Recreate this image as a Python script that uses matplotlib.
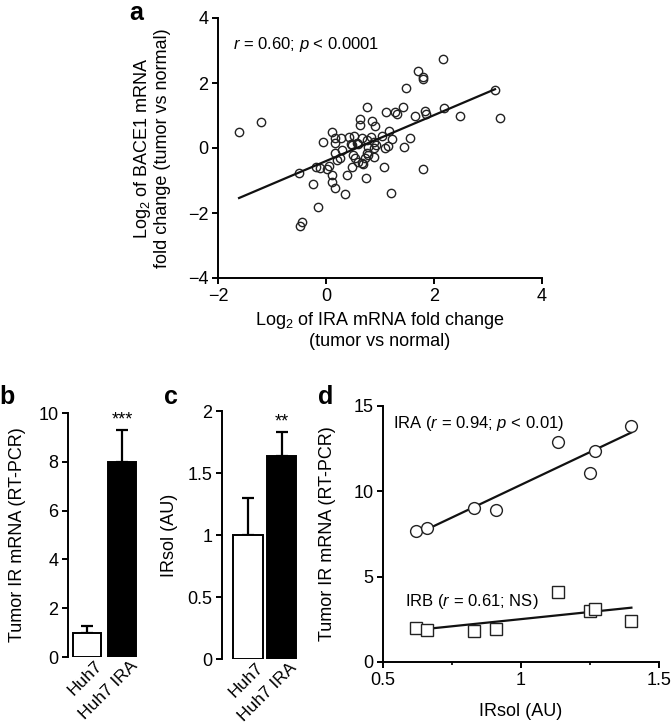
import numpy as np
import matplotlib.pyplot as plt
from matplotlib.transforms import ScaledTranslation

plt.rcParams['font.family'] = ['Liberation Sans', 'DejaVu Sans']
plt.rcParams['mathtext.fontset'] = 'custom'
plt.rcParams['mathtext.rm'] = 'Liberation Sans'
plt.rcParams['mathtext.it'] = 'Liberation Sans:italic'

# panel a: log2 fold changes (tumor vs normal)
ira_fc = [-1.61, -1.20, 2.17, 1.70, 1.80, 1.79, 1.49, 3.13, 3.23, 2.48,
          2.19, 1.83, 1.86, 1.64, 1.42, 1.28, 1.31, 1.11, 0.75, 0.63,
          0.63, 0.86, 0.91, 1.17, 1.56, 1.22, 1.03, 0.84, 0.88, 0.75,
          0.66, 0.12, -0.06, 0.17, 0.28, 0.43, 0.51, 0.17, 0.46, 0.57,
          0.17, 0.29, 0.26, 0.20, 0.50, 0.54, 0.60, 0.66, 0.72, 0.48,
          0.69, 0.78, 0.88, 0.92, 1.09, 1.15, 1.44, 0.78, 0.89, 0.75,
          0.60, 0.48, 1.07, 1.79, 0.74, 1.21, 0.39, 0.36, 0.12, 0.12,
          0.17, -0.24, -0.14, -0.44, -0.48, -0.50, -0.19, -0.11, 0.01, 0.06]
bace1_fc = [0.48, 0.81, 2.73, 2.37, 2.19, 2.12, 1.84, 1.78, 0.93, 0.98,
            1.24, 1.14, 1.05, 0.99, 1.27, 1.12, 1.05, 1.12, 1.25, 0.88,
            0.71, 0.83, 0.68, 0.52, 0.30, 0.28, 0.37, 0.33, 0.19, 0.25,
            0.32, 0.50, 0.17, 0.30, 0.30, 0.33, 0.37, 0.16, 0.12, 0.16,
            -0.14, -0.06, -0.32, -0.37, -0.22, -0.32, -0.42, -0.47, -0.30, -0.57,
            -0.50, 0.04, -0.01, 0.09, -0.01, 0.07, 0.02, -0.22, -0.27, -0.16,
            0.11, 0.09, -0.59, -0.65, -0.93, -1.37, -0.83, -1.40, -0.83, -1.06,
            -1.22, -1.12, -1.80, -2.27, -2.40, -0.78, -0.57, -0.63, -0.65, -0.55]
fit_x_range = [-1.61, 3.13]

# panels b and c
cells = ['Huh7', 'Huh7 IRA']
ir_mrna = [1.0, 8.0]
ir_mrna_err = [0.28, 1.3]
irsol = [1.0, 1.64]
irsol_err = [0.3, 0.19]

# panel d
irsol_d = [0.618, 0.661, 0.83, 0.908, 1.134, 1.249, 1.267, 1.40]
ira_d = [7.67, 7.88, 9.0, 8.9, 12.87, 11.07, 12.34, 13.85]
irb_d = [1.99, 1.90, 1.80, 1.94, 4.11, 2.97, 3.09, 2.41]

W, H = 672, 727
fig = plt.figure(figsize=(W / 100, H / 100), dpi=100)


def px_axes(x0, y0, x1, y1):
    # axes from pixel box (left, top, right, bottom)
    return fig.add_axes([x0 / W, 1 - y1 / H, (x1 - x0) / W, (y1 - y0) / H])


def style(ax):
    for s in ['top', 'right']:
        ax.spines[s].set_visible(False)
    for s in ['left', 'bottom']:
        ax.spines[s].set_linewidth(1.4)
    ax.tick_params(direction='out', length=4, width=1.4, labelsize=13, pad=3)


def panel_label(x, y, s):
    fig.text(x / W, 1 - y / H, s, fontsize=18, fontweight='bold',
             ha='center', va='center')


fs = 13

# ---- a ----
ax = px_axes(218, 18, 542, 278)
style(ax)
ax.plot(ira_fc, bace1_fc, 'o', ms=6, mfc='none', mec='#222222', mew=1.0)
k, b = np.polyfit(ira_fc, bace1_fc, 1)
fx = np.array(fit_x_range)
ax.plot(fx, k * fx + b, color='#111111', lw=1.6)
ax.set_xlim(-2, 4)
ax.set_ylim(-4, 4)
ax.set_xticks([-2, 0, 2, 4])
ax.set_yticks([-4, -2, 0, 2, 4])
ax.set_xticklabels(['\u22122', '0', '2', '4'])
ax.set_yticklabels(['\u22124', '\u22122', '0', '2', '4'])
ax.text(-1.72, 3.17, '$r$ = 0.60; $p$ < 0.0001', fontsize=12, va='center')
ax.set_xlabel('Log$_2$ of IRA mRNA fold change\n(tumor vs normal)',
              fontsize=fs, linespacing=1.1, labelpad=4)
ax.set_ylabel('Log$_2$ of BACE1 mRNA\nfold change (tumor vs normal)',
              fontsize=fs, linespacing=1.1, labelpad=12)
panel_label(136, 13, 'a')


def bar_panel(ax, vals, errs, width, ymax, yticks, ylabels, star, ylab, lpad):
    style(ax)
    ax.spines['bottom'].set_visible(False)
    x = np.arange(len(vals))
    ax.bar(x, vals, width=width, color=['white', 'black'],
           edgecolor='black', linewidth=1.4, zorder=2)
    ax.errorbar(x, vals, yerr=[[0, 0], errs], fmt='none', ecolor='black',
                elinewidth=1.6, capsize=4.5, capthick=1.6, zorder=1)
    ax.text(1, vals[1] + errs[1] + ymax * 0.005, star, fontsize=fs,
            ha='center', va='bottom')
    ax.set_ylim(0, ymax)
    ax.spines['left'].set_bounds(0, ymax)
    ax.set_yticks(yticks)
    ax.set_yticklabels(ylabels)
    ax.set_xticks(x)
    ax.set_xticklabels(cells, rotation=45, ha='right',
                       rotation_mode='anchor', fontsize=12.5)
    ax.tick_params(axis='x', length=0, pad=1)
    shift = ScaledTranslation(7 / 100, 0, fig.dpi_scale_trans)
    for t in ax.get_xticklabels():
        t.set_transform(t.get_transform() + shift)
    ax.set_ylabel(ylab, fontsize=fs, labelpad=lpad)


# ---- b ----
ax = px_axes(68, 413, 140, 657)
bar_panel(ax, ir_mrna, ir_mrna_err, 0.8, 10, [0, 2, 4, 6, 8, 10],
          ['0', '2', '4', '6', '8', '10'], '***', 'Tumor IR mRNA (RT-PCR)', 9)
ax.set_xlim(-0.55, 1.5)
panel_label(7, 397, 'b')

# ---- c ----
ax = px_axes(222, 411, 300, 659)
bar_panel(ax, irsol, irsol_err, 0.88, 2, [0, 0.5, 1, 1.5, 2],
          ['0', '0.5', '1', '1.5', '2'], '**', 'IRsol (AU)', 7)
ax.set_xlim(-0.78, 1.55)
panel_label(171, 397, 'c')

# ---- d ----
ax = px_axes(383, 406, 659, 662)
style(ax)
xd = np.array(irsol_d)
for yv, mk, lab, lx0, ly in [
        (ira_d, 'o', 'IRA ($r$ = 0.94; $p$ < 0.01)', 0.536, 14.0),
        (irb_d, 's', 'IRB ($r$ = 0.61; NS)', 0.58, 3.53)]:
    k, b = np.polyfit(xd, yv, 1)
    lx = np.array([xd.min(), xd.max()])
    ax.plot(lx, k * lx + b, color='#111111', lw=1.6, zorder=2)
    ax.plot(xd, yv, mk, ms=8.5 if mk == 'o' else 8, mfc='white',
            mec='#222222', mew=1.0, zorder=3)
    ax.text(lx0, ly, lab, fontsize=fs - 1, va='center')
ax.set_xlim(0.5, 1.5)
ax.set_ylim(0, 15)
ax.set_xticks([0.5, 1, 1.5])
ax.set_xticklabels(['0.5', '1', '1.5'])
ax.set_xticks([0.75, 1.25], minor=True)
ax.tick_params(axis='x', which='minor', length=2.5, width=1.2)
ax.set_yticks([0, 5, 10, 15])
ax.set_xlabel('IRsol (AU)', fontsize=fs, labelpad=10)
ax.set_ylabel('Tumor IR mRNA (RT-PCR)', fontsize=fs, labelpad=12)
panel_label(326, 397, 'd')

fig.savefig('out.png', dpi=100)
